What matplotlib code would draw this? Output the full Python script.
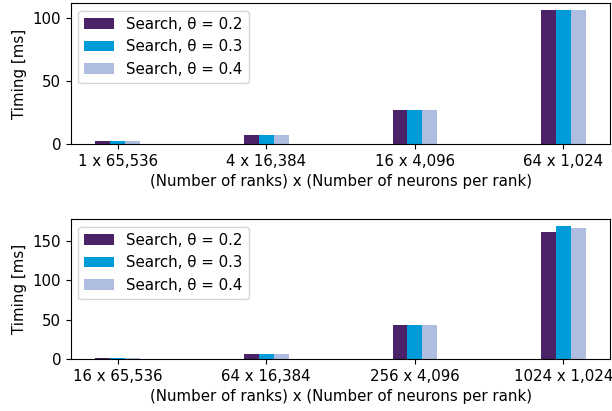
import numpy as np
import matplotlib
matplotlib.use("Agg")
import matplotlib.pyplot as plt

# Top panel: weak scaling of neurons per rank
top_labels = ["1 x 65,536", "4 x 16,384", "16 x 4,096", "64 x 1,024"]
top_theta02 = [2.4, 7.1, 26.9, 106.0]
top_theta03 = [2.4, 7.1, 26.9, 106.0]
top_theta04 = [2.4, 7.1, 26.9, 106.0]
top_yticks = [0, 50, 100]

# Bottom panel
bot_labels = ["16 x 65,536", "64 x 16,384", "256 x 4,096", "1024 x 1,024"]
bot_theta02 = [1.3, 6.3, 43.0, 161.0]
bot_theta03 = [1.3, 6.3, 43.0, 169.0]
bot_theta04 = [1.3, 6.3, 43.0, 166.5]
bot_yticks = [0, 50, 100, 150]

thetas = ["0.2", "0.3", "0.4"]
colors = ["#4b2167", "#009cda", "#aebde0"]
width = 0.1

plt.rcParams["font.size"] = 10.8

fig = plt.figure(figsize=(6.12, 4.11), dpi=100)
ax1 = fig.add_axes([0.116, 0.650, 0.881, 0.342])
ax2 = fig.add_axes([0.116, 0.1265, 0.881, 0.3405])


def draw(ax, labels, series, yticks):
    x = np.arange(len(labels))
    for i, (vals, th, c) in enumerate(zip(series, thetas, colors)):
        ax.bar(x + (i - 1) * width, vals, width, color=c,
               label=f"Search, \u03b8 = {th}")
    ax.set_xticks(x)
    ax.set_xticklabels(labels)
    ax.set_yticks(yticks)
    ax.set_xlabel("(Number of ranks) x (Number of neurons per rank)")
    ax.set_ylabel("Timing [ms]")
    ax.legend(loc="upper left")


draw(ax1, top_labels, [top_theta02, top_theta03, top_theta04], top_yticks)
draw(ax2, bot_labels, [bot_theta02, bot_theta03, bot_theta04], bot_yticks)

fig.savefig("out.png", dpi=100)
